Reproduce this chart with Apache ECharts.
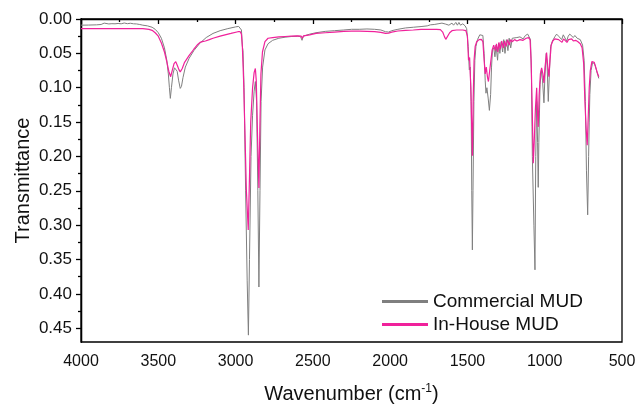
<!DOCTYPE html>
<html>
<head>
<meta charset="utf-8">
<script src="https://cdn.jsdelivr.net/npm/echarts@6/dist/echarts.min.js"></script>
<style>
  html, body { margin: 0; padding: 0; background: #fff; }
  #chart { width: 640px; height: 404px; }
</style>
</head>
<body>
<div id="chart"></div>
<script>
// FTIR spectra: wavenumber (cm-1) and transmittance
const commercialWn = [4000, 3950, 3900, 3870, 3850, 3840, 3820, 3800, 3790, 3780, 3760, 3740, 3720, 3700, 3680, 3660, 3640, 3620, 3600, 3570, 3540, 3520, 3500, 3480, 3460, 3445, 3435, 3428, 3422, 3415, 3405, 3395, 3387, 3378, 3368, 3358, 3350, 3340, 3325, 3300, 3270, 3230, 3190, 3146, 3100, 3050, 3000, 2980, 2970, 2962, 2956, 2952, 2945, 2935, 2925, 2917, 2910, 2900, 2890, 2880, 2872, 2864, 2856, 2849, 2842, 2835, 2825, 2810, 2790, 2760, 2720, 2680, 2640, 2600, 2580, 2570, 2562, 2520, 2480, 2420, 2360, 2300, 2250, 2200, 2150, 2100, 2060, 2030, 2010, 1990, 1950, 1900, 1850, 1800, 1760, 1740, 1730, 1715, 1705, 1690, 1680, 1665, 1655, 1640, 1620, 1600, 1590, 1575, 1565, 1555, 1545, 1530, 1515, 1505, 1495, 1488, 1482, 1476, 1472, 1468, 1464, 1458, 1452, 1445, 1435, 1420, 1410, 1400, 1392, 1385, 1380, 1374, 1366, 1358, 1350, 1344, 1338, 1330, 1322, 1315, 1305, 1298, 1290, 1282, 1272, 1265, 1257, 1248, 1238, 1230, 1220, 1210, 1200, 1180, 1160, 1140, 1125, 1110, 1100, 1092, 1086, 1080, 1070, 1063, 1058, 1052, 1046, 1042, 1038, 1030, 1022, 1014, 1005, 998, 990, 984, 977, 970, 962, 950, 935, 923, 910, 900, 890, 880, 870, 858, 848, 838, 826, 815, 805, 790, 770, 755, 745, 737, 730, 722, 716, 712, 708, 700, 690, 684, 676, 666, 656, 650];
const commercialT = [0.0090, 0.0088, 0.0085, 0.0080, 0.0060, 0.0075, 0.0072, 0.0068, 0.0050, 0.0070, 0.0065, 0.0070, 0.0058, 0.0068, 0.0062, 0.0070, 0.0072, 0.0080, 0.0090, 0.0100, 0.0120, 0.0150, 0.0200, 0.0280, 0.0420, 0.0600, 0.0800, 0.1000, 0.1155, 0.1000, 0.0800, 0.0710, 0.0690, 0.0760, 0.0900, 0.1010, 0.0980, 0.0850, 0.0700, 0.0570, 0.0460, 0.0350, 0.0270, 0.0210, 0.0170, 0.0140, 0.0115, 0.0108, 0.0115, 0.0160, 0.0400, 0.0460, 0.1000, 0.2500, 0.3800, 0.4600, 0.3500, 0.2000, 0.1400, 0.1050, 0.0910, 0.1200, 0.2500, 0.3900, 0.2500, 0.1200, 0.0700, 0.0450, 0.0360, 0.0310, 0.0280, 0.0265, 0.0255, 0.0250, 0.0255, 0.0310, 0.0250, 0.0220, 0.0200, 0.0180, 0.0170, 0.0160, 0.0150, 0.0150, 0.0145, 0.0150, 0.0160, 0.0185, 0.0190, 0.0170, 0.0150, 0.0130, 0.0120, 0.0110, 0.0100, 0.0085, 0.0100, 0.0080, 0.0095, 0.0070, 0.0090, 0.0060, 0.0085, 0.0075, 0.0090, 0.0060, 0.0090, 0.0050, 0.0090, 0.0050, 0.0090, 0.0070, 0.0100, 0.0140, 0.0400, 0.0740, 0.0700, 0.1200, 0.2500, 0.3360, 0.2500, 0.1200, 0.0600, 0.0400, 0.0300, 0.0230, 0.0220, 0.0240, 0.0500, 0.0900, 0.1080, 0.1000, 0.1150, 0.1330, 0.1100, 0.0700, 0.0450, 0.0420, 0.0550, 0.0380, 0.0600, 0.0350, 0.0500, 0.0330, 0.0480, 0.0300, 0.0500, 0.0300, 0.0460, 0.0280, 0.0420, 0.0280, 0.0300, 0.0270, 0.0260, 0.0290, 0.0240, 0.0220, 0.0230, 0.0300, 0.0800, 0.2000, 0.3000, 0.3650, 0.2000, 0.1200, 0.1800, 0.2450, 0.1800, 0.0950, 0.0750, 0.0900, 0.1220, 0.0800, 0.0500, 0.0700, 0.1200, 0.0800, 0.0400, 0.0320, 0.0260, 0.0220, 0.0250, 0.0230, 0.0300, 0.0230, 0.0220, 0.0320, 0.0250, 0.0220, 0.0230, 0.0270, 0.0240, 0.0280, 0.0300, 0.0380, 0.0600, 0.1200, 0.2200, 0.2850, 0.2000, 0.1500, 0.1100, 0.0750, 0.0630, 0.0620, 0.0660, 0.0740, 0.0820, 0.0865];

const inHouseWn = [4000, 3800, 3600, 3560, 3540, 3520, 3500, 3480, 3460, 3445, 3432, 3420, 3410, 3398, 3387, 3376, 3366, 3358, 3345, 3330, 3300, 3270, 3245, 3230, 3215, 3195, 3170, 3146, 3100, 3068, 3030, 2985, 2970, 2962, 2956, 2948, 2940, 2930, 2918, 2912, 2902, 2890, 2880, 2872, 2866, 2858, 2849, 2843, 2836, 2826, 2810, 2790, 2760, 2720, 2680, 2640, 2600, 2575, 2568, 2560, 2520, 2480, 2420, 2360, 2300, 2250, 2200, 2150, 2100, 2060, 2030, 2010, 1990, 1950, 1900, 1850, 1800, 1750, 1700, 1675, 1660, 1648, 1640, 1630, 1615, 1600, 1570, 1530, 1510, 1500, 1493, 1486, 1478, 1472, 1468, 1463, 1457, 1450, 1440, 1425, 1410, 1400, 1392, 1385, 1378, 1370, 1364, 1356, 1348, 1340, 1330, 1320, 1312, 1304, 1296, 1288, 1278, 1268, 1260, 1250, 1240, 1230, 1220, 1210, 1195, 1180, 1160, 1140, 1120, 1105, 1095, 1088, 1080, 1074, 1068, 1060, 1052, 1046, 1042, 1036, 1028, 1020, 1012, 1005, 998, 988, 980, 973, 966, 958, 948, 935, 923, 910, 900, 888, 878, 866, 856, 846, 836, 826, 815, 800, 785, 770, 758, 748, 740, 732, 725, 718, 712, 705, 695, 688, 680, 670, 660, 650];
const inHouseT = [0.0140, 0.0140, 0.0140, 0.0150, 0.0165, 0.0200, 0.0250, 0.0350, 0.0480, 0.0620, 0.0760, 0.0840, 0.0750, 0.0650, 0.0620, 0.0680, 0.0740, 0.0770, 0.0720, 0.0630, 0.0530, 0.0440, 0.0370, 0.0340, 0.0330, 0.0320, 0.0300, 0.0280, 0.0250, 0.0230, 0.0210, 0.0185, 0.0185, 0.0220, 0.0400, 0.0900, 0.1600, 0.2500, 0.3070, 0.2500, 0.1500, 0.1000, 0.0780, 0.0720, 0.0900, 0.1700, 0.2460, 0.1600, 0.0800, 0.0480, 0.0330, 0.0280, 0.0270, 0.0260, 0.0255, 0.0250, 0.0245, 0.0250, 0.0280, 0.0245, 0.0230, 0.0210, 0.0200, 0.0190, 0.0180, 0.0175, 0.0175, 0.0180, 0.0185, 0.0195, 0.0210, 0.0205, 0.0190, 0.0175, 0.0165, 0.0160, 0.0150, 0.0150, 0.0150, 0.0155, 0.0190, 0.0260, 0.0296, 0.0270, 0.0200, 0.0170, 0.0160, 0.0160, 0.0170, 0.0250, 0.0600, 0.0560, 0.1000, 0.1600, 0.1990, 0.1200, 0.0600, 0.0400, 0.0330, 0.0300, 0.0296, 0.0330, 0.0600, 0.0800, 0.0700, 0.0850, 0.0910, 0.0750, 0.0600, 0.0450, 0.0380, 0.0460, 0.0360, 0.0480, 0.0340, 0.0440, 0.0320, 0.0420, 0.0320, 0.0400, 0.0300, 0.0380, 0.0300, 0.0330, 0.0300, 0.0320, 0.0300, 0.0310, 0.0280, 0.0270, 0.0300, 0.0600, 0.1400, 0.2100, 0.1800, 0.1300, 0.1000, 0.1400, 0.1570, 0.1100, 0.0800, 0.0710, 0.0800, 0.0930, 0.0700, 0.0490, 0.0700, 0.0840, 0.0600, 0.0380, 0.0320, 0.0290, 0.0275, 0.0300, 0.0290, 0.0340, 0.0290, 0.0300, 0.0340, 0.0300, 0.0280, 0.0290, 0.0320, 0.0310, 0.0330, 0.0360, 0.0420, 0.0650, 0.1200, 0.1600, 0.1835, 0.1400, 0.1000, 0.0750, 0.0620, 0.0600, 0.0630, 0.0700, 0.0780, 0.0840];

const yMajor = [0, 0.05, 0.1, 0.15, 0.2, 0.25, 0.3, 0.35, 0.4, 0.45];
const yMinor = [0.025, 0.075, 0.125, 0.175, 0.225, 0.275, 0.325, 0.375, 0.425];

const zip = (xs, ys) => xs.map((x, i) => [x, ys[i]]);

const chart = echarts.init(document.getElementById('chart'));
const font = 'Liberation Sans, Arial, sans-serif';
const axisStroke = { color: '#000', width: 1.3 };

const yBase = {
  type: 'value',
  inverse: true,
  min: 0,
  max: 0.47,
  splitLine: { show: false },
  axisLine: { show: true, lineStyle: axisStroke },
};

chart.setOption({
  animation: false,
  grid: {
    left: 81, right: 18, top: 19, bottom: 62,
    outerBoundsMode: 'none',
    show: true, borderColor: '#000', borderWidth: 1.3,
  },
  legend: {
    orient: 'vertical',
    left: 377,
    top: 287,
    itemWidth: 46,
    itemHeight: 3,
    itemGap: 4,
    icon: 'rect',
    textStyle: { fontFamily: font, fontSize: 19, color: '#111' },
    data: ['Commercial MUD', 'In-House MUD'],
  },
  xAxis: {
    type: 'value',
    inverse: true,
    min: 500,
    max: 4000,
    interval: 500,
    name: 'Wavenumber (cm{sup|-1})',
    nameLocation: 'middle',
    nameGap: 41,
    nameMoveOverlap: false,
    nameTextStyle: {
      fontFamily: font, fontSize: 20, color: '#111',
      rich: { sup: { fontSize: 12, verticalAlign: 'top', padding: [0, 0, 10, 0], fontFamily: font, color: '#111' } },
    },
    axisLine: { lineStyle: axisStroke },
    axisTick: { inside: false, length: 5, lineStyle: axisStroke },
    minorTick: { show: true, splitNumber: 2, length: 3, lineStyle: axisStroke },
    axisLabel: { fontFamily: font, fontSize: 16, color: '#111', margin: 12, formatter: (v) => String(v) },
    splitLine: { show: false },
  },
  yAxis: [
    Object.assign({}, yBase, {
      name: 'Transmittance',
      nameLocation: 'middle',
      nameGap: 48,
      nameMoveOverlap: false,
      nameTextStyle: { fontFamily: font, fontSize: 20, color: '#111' },
      axisTick: { inside: false, length: 5, customValues: yMajor, lineStyle: axisStroke },
      axisLabel: {
        fontFamily: font, fontSize: 17, color: '#111', margin: 9,
        customValues: yMajor,
        formatter: (v) => v.toFixed(2),
      },
    }),
    Object.assign({}, yBase, {
      position: 'left',
      offset: 0,
      axisTick: { show: true, inside: false, length: 3, customValues: yMinor, lineStyle: axisStroke },
      axisLabel: { show: false },
    }),
  ],
  series: [
    {
      name: 'Commercial MUD',
      type: 'line',
      showSymbol: false,
      data: zip(commercialWn, commercialT),
      lineStyle: { color: '#7f7f7f', width: 1 },
      itemStyle: { color: '#7f7f7f' },
      z: 2,
    },
    {
      name: 'In-House MUD',
      type: 'line',
      showSymbol: false,
      data: zip(inHouseWn, inHouseT),
      lineStyle: { color: '#f0219b', width: 1.2 },
      itemStyle: { color: '#f0219b' },
      z: 3,
    },
  ],
});
</script>
</body>
</html>
